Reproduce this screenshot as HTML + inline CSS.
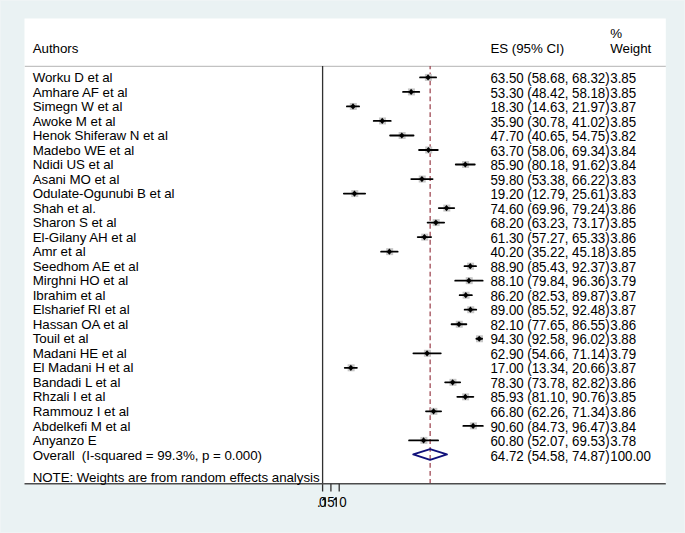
<!DOCTYPE html>
<html><head><meta charset="utf-8"><style>
html,body{margin:0;padding:0;}
body{width:685px;height:533px;background:#eaf2f3;position:relative;overflow:hidden;font-family:"Liberation Sans",sans-serif;}
svg{position:absolute;left:0;top:0;}
.t{position:absolute;font-size:13.33px;line-height:1;white-space:pre;color:#000;letter-spacing:-0.05px;}
.n{transform-origin:0 2.1px;transform:scaleY(1.045);}
.ci{stroke:#000;stroke-width:1.8;stroke-linecap:round;}
.box{fill:#c8c8c8;}
.pt{fill:#000;}
</style></head><body>
<svg width="685" height="533" viewBox="0 0 685 533">
<rect x="0.5" y="0.5" width="684" height="532" fill="none" stroke="#eff4f5" stroke-width="1"/>
<rect x="24.5" y="18.5" width="641.3" height="465.5" fill="#fff"/>
<line x1="24.8" y1="66.35" x2="665.8" y2="66.35" stroke="#c2c2c2" stroke-width="1.2"/>
<line x1="430.15" y1="66" x2="430.15" y2="483" stroke="#a04a55" stroke-width="1.3" stroke-dasharray="4.8 3.17" stroke-dashoffset="1.5"/>
<line x1="322.6" y1="66" x2="322.6" y2="491.6" stroke="#303030" stroke-width="1.3"/>
<line x1="24.5" y1="483.7" x2="665.8" y2="483.7" stroke="#4c4c4c" stroke-width="1.5"/>
<line x1="330.91" y1="483.7" x2="330.91" y2="491.6" stroke="#333" stroke-width="1.3"/>
<line x1="339.21" y1="483.7" x2="339.21" y2="491.6" stroke="#333" stroke-width="1.3"/>
<rect x="424.87" y="73.9" width="7" height="7" class="box"/>
<line x1="420.07" y1="77.4" x2="436.08" y2="77.4" class="ci"/>
<path d="M428.07 74.3l2.7 3.1l-2.7 3.1l-2.7 -3.1z" class="pt"/>
<rect x="407.93" y="88.42" width="7" height="7" class="box"/>
<line x1="403.03" y1="91.92" x2="419.24" y2="91.92" class="ci"/>
<path d="M411.13 88.82l2.7 3.1l-2.7 3.1l-2.7 -3.1z" class="pt"/>
<rect x="349.8" y="102.94" width="7" height="7" class="box"/>
<line x1="346.9" y1="106.44" x2="359.09" y2="106.44" class="ci"/>
<path d="M353 103.34l2.7 3.1l-2.7 3.1l-2.7 -3.1z" class="pt"/>
<rect x="379.03" y="117.46" width="7" height="7" class="box"/>
<line x1="373.73" y1="120.96" x2="390.73" y2="120.96" class="ci"/>
<path d="M382.23 117.86l2.7 3.1l-2.7 3.1l-2.7 -3.1z" class="pt"/>
<rect x="398.63" y="131.98" width="7" height="7" class="box"/>
<line x1="390.12" y1="135.48" x2="413.54" y2="135.48" class="ci"/>
<path d="M401.83 132.38l2.7 3.1l-2.7 3.1l-2.7 -3.1z" class="pt"/>
<rect x="425.21" y="146.5" width="7" height="7" class="box"/>
<line x1="419.04" y1="150" x2="437.77" y2="150" class="ci"/>
<path d="M428.41 146.9l2.7 3.1l-2.7 3.1l-2.7 -3.1z" class="pt"/>
<rect x="462.08" y="161.02" width="7" height="7" class="box"/>
<line x1="455.78" y1="164.52" x2="474.78" y2="164.52" class="ci"/>
<path d="M465.28 161.42l2.7 3.1l-2.7 3.1l-2.7 -3.1z" class="pt"/>
<rect x="418.73" y="175.54" width="7" height="7" class="box"/>
<line x1="411.26" y1="179.04" x2="432.59" y2="179.04" class="ci"/>
<path d="M421.93 175.94l2.7 3.1l-2.7 3.1l-2.7 -3.1z" class="pt"/>
<rect x="351.29" y="190.06" width="7" height="7" class="box"/>
<line x1="343.84" y1="193.56" x2="365.14" y2="193.56" class="ci"/>
<path d="M354.49 190.46l2.7 3.1l-2.7 3.1l-2.7 -3.1z" class="pt"/>
<rect x="443.31" y="204.58" width="7" height="7" class="box"/>
<line x1="438.8" y1="208.08" x2="454.22" y2="208.08" class="ci"/>
<path d="M446.51 204.98l2.7 3.1l-2.7 3.1l-2.7 -3.1z" class="pt"/>
<rect x="432.68" y="219.1" width="7" height="7" class="box"/>
<line x1="427.63" y1="222.6" x2="444.14" y2="222.6" class="ci"/>
<path d="M435.88 219.5l2.7 3.1l-2.7 3.1l-2.7 -3.1z" class="pt"/>
<rect x="421.22" y="233.62" width="7" height="7" class="box"/>
<line x1="417.73" y1="237.12" x2="431.11" y2="237.12" class="ci"/>
<path d="M424.42 234.02l2.7 3.1l-2.7 3.1l-2.7 -3.1z" class="pt"/>
<rect x="386.17" y="248.14" width="7" height="7" class="box"/>
<line x1="381.1" y1="251.64" x2="397.64" y2="251.64" class="ci"/>
<path d="M389.37 248.54l2.7 3.1l-2.7 3.1l-2.7 -3.1z" class="pt"/>
<rect x="467.06" y="262.66" width="7" height="7" class="box"/>
<line x1="464.5" y1="266.16" x2="476.03" y2="266.16" class="ci"/>
<path d="M470.26 263.06l2.7 3.1l-2.7 3.1l-2.7 -3.1z" class="pt"/>
<rect x="465.73" y="277.18" width="7" height="7" class="box"/>
<line x1="455.21" y1="280.68" x2="482.65" y2="280.68" class="ci"/>
<path d="M468.93 277.58l2.7 3.1l-2.7 3.1l-2.7 -3.1z" class="pt"/>
<rect x="462.58" y="291.7" width="7" height="7" class="box"/>
<line x1="459.68" y1="295.2" x2="471.87" y2="295.2" class="ci"/>
<path d="M465.78 292.1l2.7 3.1l-2.7 3.1l-2.7 -3.1z" class="pt"/>
<rect x="467.23" y="306.22" width="7" height="7" class="box"/>
<line x1="464.65" y1="309.72" x2="476.21" y2="309.72" class="ci"/>
<path d="M470.43 306.62l2.7 3.1l-2.7 3.1l-2.7 -3.1z" class="pt"/>
<rect x="455.77" y="320.74" width="7" height="7" class="box"/>
<line x1="451.58" y1="324.24" x2="466.36" y2="324.24" class="ci"/>
<path d="M458.97 321.14l2.7 3.1l-2.7 3.1l-2.7 -3.1z" class="pt"/>
<rect x="476.03" y="335.26" width="7" height="7" class="box"/>
<line x1="476.38" y1="338.76" x2="482.09" y2="338.76" class="ci"/>
<path d="M479.23 335.66l2.7 3.1l-2.7 3.1l-2.7 -3.1z" class="pt"/>
<rect x="423.88" y="349.78" width="7" height="7" class="box"/>
<line x1="413.39" y1="353.28" x2="440.76" y2="353.28" class="ci"/>
<path d="M427.08 350.18l2.7 3.1l-2.7 3.1l-2.7 -3.1z" class="pt"/>
<rect x="347.64" y="364.3" width="7" height="7" class="box"/>
<line x1="344.76" y1="367.8" x2="356.92" y2="367.8" class="ci"/>
<path d="M350.84 364.7l2.7 3.1l-2.7 3.1l-2.7 -3.1z" class="pt"/>
<rect x="449.46" y="378.82" width="7" height="7" class="box"/>
<line x1="445.15" y1="382.32" x2="460.16" y2="382.32" class="ci"/>
<path d="M452.66 379.22l2.7 3.1l-2.7 3.1l-2.7 -3.1z" class="pt"/>
<rect x="462.13" y="393.34" width="7" height="7" class="box"/>
<line x1="457.31" y1="396.84" x2="473.35" y2="396.84" class="ci"/>
<path d="M465.33 393.74l2.7 3.1l-2.7 3.1l-2.7 -3.1z" class="pt"/>
<rect x="430.35" y="407.86" width="7" height="7" class="box"/>
<line x1="426.01" y1="411.36" x2="441.1" y2="411.36" class="ci"/>
<path d="M433.55 408.26l2.7 3.1l-2.7 3.1l-2.7 -3.1z" class="pt"/>
<rect x="469.89" y="422.38" width="7" height="7" class="box"/>
<line x1="463.34" y1="425.88" x2="482.84" y2="425.88" class="ci"/>
<path d="M473.09 422.78l2.7 3.1l-2.7 3.1l-2.7 -3.1z" class="pt"/>
<rect x="420.39" y="436.9" width="7" height="7" class="box"/>
<line x1="409.09" y1="440.4" x2="438.09" y2="440.4" class="ci"/>
<path d="M423.59 437.3l2.7 3.1l-2.7 3.1l-2.7 -3.1z" class="pt"/>
<path d="M413.26 454.45L430.1 449.05L446.96 454.45L430.1 459.85Z" fill="none" stroke="#10107a" stroke-width="1.9" stroke-linejoin="round"/>
<path d="M324.53 497.26L325.77 497.26L325.77 506.8L324.53 506.8L324.53 499.56L322.25 500.86Z" fill="#000"/><path d="M324.53 497.26L324.53 499.56L322.25 500.86L322.25 499.66Z" fill="#000"/>
<path d="M335.63 497.26L336.87 497.26L336.87 506.8L335.63 506.8L335.63 499.56L333.35 500.86Z" fill="#000"/><path d="M335.63 497.26L335.63 499.56L333.35 500.86L333.35 499.66Z" fill="#000"/>
</svg>
<div class="t" style="left:32.7px;top:42.02px">Authors</div>
<div class="t" style="left:490.5px;top:41.92px">ES (95% CI)</div>
<div class="t" style="left:610.3px;top:27.22px">%</div>
<div class="t" style="left:610.3px;top:41.82px">Weight</div>
<div class="t" style="left:32.7px;top:71.02px">Worku D et al</div>
<div class="t n" style="left:490.5px;top:72.02px">63.50 (58.68, 68.32)</div>
<div class="t n" style="left:610.3px;top:72.02px">3.85</div>
<div class="t" style="left:32.7px;top:85.54px">Amhare AF et al</div>
<div class="t n" style="left:490.5px;top:86.54px">53.30 (48.42, 58.18)</div>
<div class="t n" style="left:610.3px;top:86.54px">3.85</div>
<div class="t" style="left:32.7px;top:100.06px">Simegn W et al</div>
<div class="t n" style="left:490.5px;top:101.06px">18.30 (14.63, 21.97)</div>
<div class="t n" style="left:610.3px;top:101.06px">3.87</div>
<div class="t" style="left:32.7px;top:114.58px">Awoke M et al</div>
<div class="t n" style="left:490.5px;top:115.58px">35.90 (30.78, 41.02)</div>
<div class="t n" style="left:610.3px;top:115.58px">3.85</div>
<div class="t" style="left:32.7px;top:129.1px">Henok Shiferaw N et al</div>
<div class="t n" style="left:490.5px;top:130.1px">47.70 (40.65, 54.75)</div>
<div class="t n" style="left:610.3px;top:130.1px">3.82</div>
<div class="t" style="left:32.7px;top:143.62px">Madebo WE et al</div>
<div class="t n" style="left:490.5px;top:144.62px">63.70 (58.06, 69.34)</div>
<div class="t n" style="left:610.3px;top:144.62px">3.84</div>
<div class="t" style="left:32.7px;top:158.14px">Ndidi US et al</div>
<div class="t n" style="left:490.5px;top:159.14px">85.90 (80.18, 91.62)</div>
<div class="t n" style="left:610.3px;top:159.14px">3.84</div>
<div class="t" style="left:32.7px;top:172.66px">Asani MO et al</div>
<div class="t n" style="left:490.5px;top:173.66px">59.80 (53.38, 66.22)</div>
<div class="t n" style="left:610.3px;top:173.66px">3.83</div>
<div class="t" style="left:32.7px;top:187.18px">Odulate-Ogunubi B et al</div>
<div class="t n" style="left:490.5px;top:188.18px">19.20 (12.79, 25.61)</div>
<div class="t n" style="left:610.3px;top:188.18px">3.83</div>
<div class="t" style="left:32.7px;top:201.7px">Shah et al.</div>
<div class="t n" style="left:490.5px;top:202.7px">74.60 (69.96, 79.24)</div>
<div class="t n" style="left:610.3px;top:202.7px">3.86</div>
<div class="t" style="left:32.7px;top:216.22px">Sharon S et al</div>
<div class="t n" style="left:490.5px;top:217.22px">68.20 (63.23, 73.17)</div>
<div class="t n" style="left:610.3px;top:217.22px">3.85</div>
<div class="t" style="left:32.7px;top:230.74px">El-Gilany AH et al</div>
<div class="t n" style="left:490.5px;top:231.74px">61.30 (57.27, 65.33)</div>
<div class="t n" style="left:610.3px;top:231.74px">3.86</div>
<div class="t" style="left:32.7px;top:245.26px">Amr et al</div>
<div class="t n" style="left:490.5px;top:246.26px">40.20 (35.22, 45.18)</div>
<div class="t n" style="left:610.3px;top:246.26px">3.85</div>
<div class="t" style="left:32.7px;top:259.78px">Seedhom AE et al</div>
<div class="t n" style="left:490.5px;top:260.78px">88.90 (85.43, 92.37)</div>
<div class="t n" style="left:610.3px;top:260.78px">3.87</div>
<div class="t" style="left:32.7px;top:274.3px">Mirghni HO et al</div>
<div class="t n" style="left:490.5px;top:275.3px">88.10 (79.84, 96.36)</div>
<div class="t n" style="left:610.3px;top:275.3px">3.79</div>
<div class="t" style="left:32.7px;top:288.82px">Ibrahim et al</div>
<div class="t n" style="left:490.5px;top:289.82px">86.20 (82.53, 89.87)</div>
<div class="t n" style="left:610.3px;top:289.82px">3.87</div>
<div class="t" style="left:32.7px;top:303.34px">Elsharief RI et al</div>
<div class="t n" style="left:490.5px;top:304.34px">89.00 (85.52, 92.48)</div>
<div class="t n" style="left:610.3px;top:304.34px">3.87</div>
<div class="t" style="left:32.7px;top:317.86px">Hassan OA et al</div>
<div class="t n" style="left:490.5px;top:318.86px">82.10 (77.65, 86.55)</div>
<div class="t n" style="left:610.3px;top:318.86px">3.86</div>
<div class="t" style="left:32.7px;top:332.38px">Touil et al</div>
<div class="t n" style="left:490.5px;top:333.38px">94.30 (92.58, 96.02)</div>
<div class="t n" style="left:610.3px;top:333.38px">3.88</div>
<div class="t" style="left:32.7px;top:346.9px">Madani HE et al</div>
<div class="t n" style="left:490.5px;top:347.9px">62.90 (54.66, 71.14)</div>
<div class="t n" style="left:610.3px;top:347.9px">3.79</div>
<div class="t" style="left:32.7px;top:361.42px">El Madani H et al</div>
<div class="t n" style="left:490.5px;top:362.42px">17.00 (13.34, 20.66)</div>
<div class="t n" style="left:610.3px;top:362.42px">3.87</div>
<div class="t" style="left:32.7px;top:375.94px">Bandadi L et al</div>
<div class="t n" style="left:490.5px;top:376.94px">78.30 (73.78, 82.82)</div>
<div class="t n" style="left:610.3px;top:376.94px">3.86</div>
<div class="t" style="left:32.7px;top:390.46px">Rhzali I et al</div>
<div class="t n" style="left:490.5px;top:391.46px">85.93 (81.10, 90.76)</div>
<div class="t n" style="left:610.3px;top:391.46px">3.85</div>
<div class="t" style="left:32.7px;top:404.98px">Rammouz I et al</div>
<div class="t n" style="left:490.5px;top:405.98px">66.80 (62.26, 71.34)</div>
<div class="t n" style="left:610.3px;top:405.98px">3.86</div>
<div class="t" style="left:32.7px;top:419.5px">Abdelkefi M et al</div>
<div class="t n" style="left:490.5px;top:420.5px">90.60 (84.73, 96.47)</div>
<div class="t n" style="left:610.3px;top:420.5px">3.84</div>
<div class="t" style="left:32.7px;top:434.02px">Anyanzo E</div>
<div class="t n" style="left:490.5px;top:435.02px">60.80 (52.07, 69.53)</div>
<div class="t n" style="left:610.3px;top:435.02px">3.78</div>
<div class="t" style="left:32.7px;top:448.52px">Overall&nbsp;&nbsp;(I-squared = 99.3%, p = 0.000)</div>
<div class="t n" style="left:490.5px;top:449.52px">64.72 (54.58, 74.87)</div>
<div class="t n" style="left:610.3px;top:449.52px">100.00</div>
<div class="t" style="left:32.7px;top:470.92px">NOTE: Weights are from random effects analysis</div>
<div class="t n" style="left:317.1px;top:495.52px">.</div>
<div class="t n" style="left:319px;top:495.52px">0</div>
<div class="t n" style="left:327.3px;top:495.52px">5</div>
<div class="t n" style="left:339.3px;top:495.52px">0</div>
</body></html>
